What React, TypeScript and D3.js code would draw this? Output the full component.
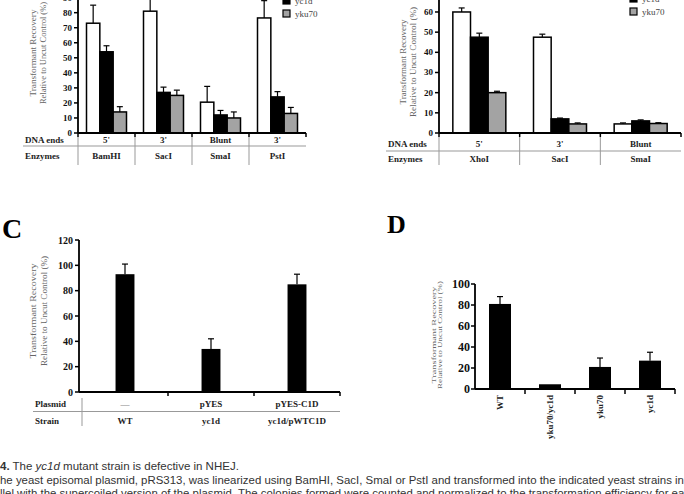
import React from "react";
import * as d3 from "d3";

// ---------- data ----------
const seriesNames = ["WT", "yc1d", "yku70"];
const seriesFills = ["#ffffff", "#000000", "#a3a3a3"];

const aEnzymes = ["BamHI", "SacI", "SmaI", "PstI"];
const aEnds = ["5'", "3'", "Blunt", "3'"];
const aWT = [73, 81, 20.5, 76.5];
const aWTErr = [12, 14, 10.5, 11.5];
const aYc1d = [54, 27, 12, 24];
const aYc1dErr = [4, 3.5, 3, 3.5];
const aYku70 = [14, 25, 10, 13];
const aYku70Err = [3.5, 3.5, 4, 4];
const aTicks = [0, 10, 20, 30, 40, 50, 60, 70, 80, 90];

const bEnzymes = ["XhoI", "SacI", "SmaI"];
const bEnds = ["5'", "3'", "Blunt"];
const bWT = [60, 47.5, 4.5];
const bWTErr = [2, 1.5, 0.5];
const bYc1d = [47.5, 7, 6];
const bYc1dErr = [2, 0.4, 0.5];
const bYku70 = [20, 4.5, 4.7];
const bYku70Err = [0.7, 0.5, 0.4];
const bTicks = [0, 10, 20, 30, 40, 50, 60];

const cStrains = ["WT", "yc1d", "yc1d/pWTC1D"];
const cPlasmids = ["—", "pYES", "pYES-C1D"];
const cValues = [93, 34, 85];
const cErr = [8, 8, 8];
const cTicks = [0, 20, 40, 60, 80, 100, 120];

const dStrains = ["WT", "yku70/yc1d", "yku70", "yc1d"];
const dValues = [81, 4.5, 21, 27];
const dErr = [7, 0, 8.5, 8];
const dTicks = [0, 20, 40, 60, 80, 100];

const yTitle1 = "Transformant Recovery";
const yTitle2 = "Relative to Uncut Control (%)";

const SERIF = "'Liberation Serif', 'DejaVu Serif', serif";
const SANS = "'Liberation Sans', Arial, sans-serif";

function ErrBar({ x, y0, y1, cap }: { x: number; y0: number; y1: number; cap: number }) {
  if (Math.abs(y0 - y1) < 0.5) return null;
  return (
    <g stroke="#000" strokeWidth={1.2}>
      <line x1={x} x2={x} y1={y0} y2={y1} />
      <line x1={x - cap / 2} x2={x + cap / 2} y1={y1} y2={y1} />
    </g>
  );
}

function YAxisTitle(p: { b1: number; b2: number; cy: number; len1: number; len2: number; size: number }) {
  return (
    <g fill="#666" fontFamily={SERIF} fontSize={p.size} textAnchor="middle">
      <text transform={`translate(${p.b1},${p.cy}) rotate(-90)`} textLength={p.len1} lengthAdjust="spacingAndGlyphs">{yTitle1}</text>
      <text transform={`translate(${p.b2},${p.cy}) rotate(-90)`} textLength={p.len2} lengthAdjust="spacingAndGlyphs">{yTitle2}</text>
    </g>
  );
}

function GroupedPanel(props: {
  groups: string[];
  ends: string[];
  vals: number[][];
  errs: number[][];
  ticks: number[];
  x0: number;
  x1: number;
  y0: number;
  yUnit: number;
  cluster: number;
  rowLabelX: number;
  endsY: number;
  lineY: number;
  enzY: number;
  sepBottom: number;
}) {
  const { groups, ends, vals, errs, ticks, x0, x1, y0, yUnit, cluster } = props;
  const x = d3.scaleBand<string>().domain(groups.map((g, i) => g + i)).range([x0, x1]);
  const bw = x.bandwidth();
  const xi = d3.scaleBand<string>().domain(seriesNames).range([(bw - cluster) / 2, (bw + cluster) / 2]);
  const y = d3.scaleLinear().domain([0, 10]).range([y0, y0 - yUnit]);
  const boundaries = groups.map((g, i) => x(g + i)!).concat([x1]);
  return (
    <g>
      {groups.map((g, gi) =>
        seriesNames.map((s, si) => {
          const bx = x(g + gi)! + xi(s)!;
          const v = vals[si][gi];
          return (
            <g key={g + gi + s}>
              <ErrBar x={bx + xi.bandwidth() / 2} y0={y(v)} y1={y(v + errs[si][gi])} cap={6} />
              <rect x={bx} y={y(v)} width={xi.bandwidth()} height={y0 - y(v)} fill={seriesFills[si]} stroke="#000" strokeWidth={1.5} />
            </g>
          );
        })
      )}
      <line x1={x0} x2={x0} y1={-2} y2={y0} stroke="#000" strokeWidth={1.8} />
      {ticks.map((t) => (
        <g key={t}>
          <line x1={x0 - 4} x2={x0} y1={y(t)} y2={y(t)} stroke="#000" strokeWidth={1.5} />
          <text x={x0 - 6} y={y(t) + 3} textAnchor="end" fontFamily={SERIF} fontWeight="bold" fontSize={9} fill="#111">
            {t}
          </text>
        </g>
      ))}
      <line x1={x0} x2={x1} y1={y0} y2={y0} stroke="#000" strokeWidth={1.8} />
      {boundaries.map((b, i) => (
        <line key={"t" + i} x1={b} x2={b} y1={y0} y2={y0 + 4} stroke="#000" strokeWidth={1.5} />
      ))}
      {boundaries.slice(0, -1).map((b, i) => (
        <line key={"s" + i} x1={b} x2={b} y1={y0 + 4} y2={props.sepBottom} stroke="#999" strokeWidth={1} />
      ))}
      <line x1={props.rowLabelX - 2} x2={x1} y1={props.lineY} y2={props.lineY} stroke="#999" strokeWidth={1} />
      <g fontFamily={SERIF} fontWeight="bold" fontSize={9} fill="#222">
        <text x={props.rowLabelX} y={props.endsY}>DNA ends</text>
        <text x={props.rowLabelX} y={props.enzY}>Enzymes</text>
        {groups.map((g, gi) => (
          <g key={"l" + gi}>
            <text x={x(g + gi)! + bw / 2} y={props.endsY} textAnchor="middle">{ends[gi]}</text>
            <text x={x(g + gi)! + bw / 2} y={props.enzY} textAnchor="middle">{g}</text>
          </g>
        ))}
      </g>
    </g>
  );
}

function Legend({ x, y }: { x: number; y: number }) {
  return (
    <g fontFamily={SERIF} fontSize={9} fill="#444">
      <rect x={x} y={y - 13} width={7} height={7} fill={seriesFills[1]} stroke="#000" strokeWidth={1.2} />
      <text x={x + 12} y={y - 6}>{seriesNames[1]}</text>
      <rect x={x} y={y} width={7} height={7} fill={seriesFills[2]} stroke="#000" strokeWidth={1.2} />
      <text x={x + 12} y={y + 7}>{seriesNames[2]}</text>
    </g>
  );
}

export default function App() {
  const cx = d3.scaleBand<string>().domain(cStrains).range([82, 340]).paddingInner(0.78).paddingOuter(0.39);
  const cy = d3.scaleLinear().domain([0, 120]).range([392, 240]);
  const cBounds = [168, 254, 340];
  const dx = d3.scaleBand<string>().domain(dStrains).range([475, 675]).paddingInner(0.56).paddingOuter(0.28);
  const dy = d3.scaleLinear().domain([0, 100]).range([389, 284]);
  const dBounds = dStrains.map((s) => dx(s)! - dx.step() * 0.28).slice(1).concat([675]);

  return (
    <svg width={684} height={494} style={{ position: "absolute", left: 0, top: 0, background: "#fff" }}>
      <rect width={684} height={494} fill="#fff" />
      {/* Panel A */}
      <YAxisTitle b1={36} b2={46} cy={53} len1={87} len2={102} size={9} />
      <GroupedPanel
        groups={aEnzymes}
        ends={aEnds}
        vals={[aWT, aYc1d, aYku70]}
        errs={[aWTErr, aYc1dErr, aYku70Err]}
        ticks={aTicks}
        x0={78}
        x1={306}
        y0={133}
        yUnit={15.04}
        cluster={40}
        rowLabelX={25}
        endsY={143}
        lineY={146}
        enzY={159}
        sepBottom={165}
      />
      <Legend x={283} y={10} />
      {/* Panel B */}
      <YAxisTitle b1={406} b2={416} cy={62} len1={85} len2={110} size={9} />
      <GroupedPanel
        groups={bEnzymes}
        ends={bEnds}
        vals={[bWT, bYc1d, bYku70]}
        errs={[bWTErr, bYc1dErr, bYku70Err]}
        ticks={bTicks}
        x0={439}
        x1={681}
        y0={133}
        yUnit={20.17}
        cluster={53}
        rowLabelX={388}
        endsY={147}
        lineY={151}
        enzY={162}
        sepBottom={165}
      />
      <Legend x={630} y={8} />

      {/* Panel C */}
      <text x={2} y={238} fontFamily={SERIF} fontWeight="bold" fontSize={28} fill="#000">C</text>
      <YAxisTitle b1={36} b2={47} cy={311} len1={95} len2={110} size={9} />
      {cStrains.map((s, i) => (
        <g key={s}>
          <ErrBar x={cx(s)! + cx.bandwidth() / 2} y0={cy(cValues[i])} y1={cy(cValues[i] + cErr[i])} cap={6} />
          <rect x={cx(s)!} y={cy(cValues[i])} width={cx.bandwidth()} height={cy(0) - cy(cValues[i])} fill="#000" />
        </g>
      ))}
      <line x1={79} x2={79} y1={240} y2={392} stroke="#000" strokeWidth={1.8} />
      {cTicks.map((t) => (
        <g key={t}>
          <line x1={75} x2={79} y1={cy(t)} y2={cy(t)} stroke="#000" strokeWidth={1.5} />
          <text x={73} y={cy(t) + 3.5} textAnchor="end" fontFamily={SERIF} fontWeight="bold" fontSize={10} fill="#111">{t}</text>
        </g>
      ))}
      <line x1={79} x2={340} y1={392} y2={392} stroke="#000" strokeWidth={1.8} />
      {cBounds.map((b) => (
        <line key={b} x1={b} x2={b} y1={392} y2={396} stroke="#000" strokeWidth={1.5} />
      ))}
      <line x1={82} x2={82} y1={398} y2={426} stroke="#999" strokeWidth={1} />
      <line x1={33} x2={340} y1={411.5} y2={411.5} stroke="#999" strokeWidth={1} />
      <g fontFamily={SERIF} fontWeight="bold" fontSize={9} fill="#222">
        <text x={35} y={407}>Plasmid</text>
        <text x={35} y={424}>Strain</text>
        {cStrains.map((s, i) => (
          <g key={"cl" + s}>
            <text x={cx(s)! + cx.bandwidth() / 2} y={407} textAnchor="middle" fontWeight={i === 0 ? "normal" : "bold"} fill={i === 0 ? "#888" : "#222"}>{cPlasmids[i]}</text>
            <text x={cx(s)! + cx.bandwidth() / 2} y={424} textAnchor="middle">{s}</text>
          </g>
        ))}
      </g>

      {/* Panel D */}
      <text x={387} y={233} fontFamily={SERIF} fontWeight="bold" fontSize={26} fill="#000">D</text>
      <YAxisTitle b1={435.5} b2={442} cy={335} len1={97} len2={108} size={6.5} />
      {dStrains.map((s, i) => (
        <g key={s}>
          <ErrBar x={dx(s)! + dx.bandwidth() / 2} y0={dy(dValues[i])} y1={dy(dValues[i] + dErr[i])} cap={6} />
          <rect x={dx(s)!} y={dy(dValues[i])} width={dx.bandwidth()} height={dy(0) - dy(dValues[i])} fill="#000" />
        </g>
      ))}
      <line x1={475} x2={475} y1={284} y2={389} stroke="#000" strokeWidth={1.8} />
      {dTicks.map((t) => (
        <g key={t}>
          <line x1={471} x2={475} y1={dy(t)} y2={dy(t)} stroke="#000" strokeWidth={1.5} />
          <text x={470} y={dy(t) + 4} textAnchor="end" fontFamily={SERIF} fontWeight="bold" fontSize={12} fill="#111">{t}</text>
        </g>
      ))}
      <line x1={475} x2={675} y1={389} y2={389} stroke="#000" strokeWidth={1.8} />
      {dBounds.map((b) => (
        <line key={b} x1={b} x2={b} y1={389} y2={394} stroke="#000" strokeWidth={1.5} />
      ))}
      {dStrains.map((s) => (
        <text
          key={"dl" + s}
          transform={`translate(${dx(s)! + dx.bandwidth() / 2 + 3},${395}) rotate(-90)`}
          textAnchor="end"
          fontFamily={SERIF}
          fontWeight="bold"
          fontSize={9}
          fill="#222"
        >
          {s}
        </text>
      ))}

      {/* Caption */}
      <g fontFamily={SANS} fontSize={11.5} fill="#333">
        <text x={0} y={470}>
          <tspan fontWeight="bold">4.</tspan> The <tspan fontStyle="italic">yc1d</tspan> mutant strain is defective in NHEJ.
        </text>
        <text x={0} y={484} textLength={684} lengthAdjust="spacingAndGlyphs">
          he yeast episomal plasmid, pRS313, was linearized using BamHI, SacI, SmaI or PstI and transformed into the indicated yeast strains in
        </text>
        <text x={0} y={497} textLength={690} lengthAdjust="spacingAndGlyphs">
          llel with the supercoiled version of the plasmid. The colonies formed were counted and normalized to the transformation efficiency for eac
        </text>
      </g>
    </svg>
  );
}
